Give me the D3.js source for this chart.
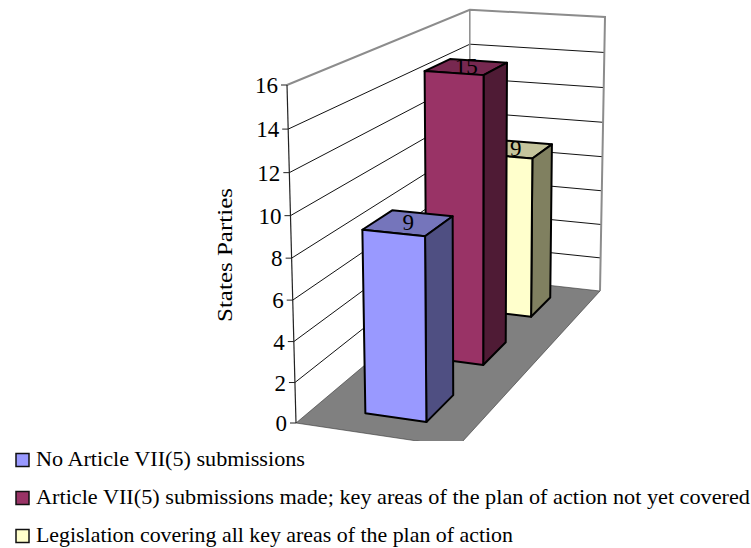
<!DOCTYPE html>
<html>
<head>
<meta charset="utf-8">
<script src="https://d3js.org/d3.v7.min.js"></script>
<style>
  html, body { margin: 0; padding: 0; background: #fff; }
  text { font-family: "Liberation Serif", serif; fill: #000; }
</style>
</head>
<body>
<svg id="chart" width="751" height="548"></svg>
<script>
const seriesNames = [
  "No Article VII(5) submissions",
  "Article VII(5) submissions made; key areas of the plan of action not yet covered",
  "Legislation covering all key areas of the plan of action"
];
const seriesValues = [9, 15, 9];
const yTicks = [0, 2, 4, 6, 8, 10, 12, 14, 16];
const frontColors = ["#9999ff", "#993366", "#ffffcc"];
const sideColors = ["#4f4f82", "#4f1b35", "#808060"];
const topColors = ["#7575bb", "#772850", "#c4c49c"];

const width = 751, height = 548;
const svg = d3.select("#chart");

// box corners on screen: front-left, front-right, back-right, back-left, then two top ones
const A = [296, 423], F = [457.5, 447], R = [600, 291], B = [470, 276.5];
const T = [287, 85], RT = [605, 16];

// square to quad homography for the floor
const dx1 = F[0] - R[0], dx2 = B[0] - R[0], sx = A[0] - F[0] + R[0] - B[0];
const dy1 = F[1] - R[1], dy2 = B[1] - R[1], sy = A[1] - F[1] + R[1] - B[1];
const den = dx1 * dy2 - dx2 * dy1;
const g = (sx * dy2 - dx2 * sy) / den;
const h = (dx1 * sy - sx * dy1) / den;
const a = F[0] - A[0] + g * F[0], b = B[0] - A[0] + h * B[0];
const d = F[1] - A[1] + g * F[1], e = B[1] - A[1] + h * B[1];
// vertical direction, from the lean of the left and right edges
const W = 1 + g + h;
const wv = ((RT[0] - R[0]) * W + A[0] - T[0]) / (T[0] - RT[0]);
const cx = T[0] * (1 + wv) - A[0];
const cy = T[1] * (1 + wv) - A[1];

const yScale = d3.scaleLinear().domain([0, 16]).range([0, 1]);
const xScale = d3.scaleBand().domain(["bars"]).range([0.32, 0.706]);
const zScale = d3.scaleBand().domain(seriesNames).range([0.0085, 0.994]).paddingInner(0.55).paddingOuter(0.25);

const project = (x, z, value) => {
  const v = yScale(value);
  const w = g * x + h * z + 1 + wv * v;
  return [(a * x + b * z + A[0] + cx * v) / w, (d * x + e * z + A[1] + cy * v) / w];
};
const line = d3.line();

svg.append("clipPath").attr("id", "plot-clip")
  .append("rect").attr("width", width).attr("height", 441);
const plot = svg.append("g").attr("clip-path", "url(#plot-clip)");

// floor
plot.append("path")
  .attr("d", line([project(0, 0, 0), project(1, 0, 0), project(1, 1, 0), project(0, 1, 0)]) + "Z")
  .attr("fill", "#808080")
  .attr("stroke", "#333")
  .attr("stroke-width", 0.6);

// gridlines over the left and back walls
plot.selectAll("path.grid")
  .data(yTicks.filter((t) => t > 0 && t < 16))
  .enter()
  .append("path")
  .attr("class", "grid")
  .attr("d", (t) => line([project(0, 0, t), project(0, 1, t), project(1, 1, t)]))
  .attr("fill", "none")
  .attr("stroke", "#111")
  .attr("stroke-width", 1);

// wall outline
plot.append("path")
  .attr("d", line([project(0, 0, 16), project(0, 1, 16), project(1, 1, 16), project(1, 1, 0)]))
  .attr("fill", "none")
  .attr("stroke", "#8c8c8c")
  .attr("stroke-width", 2);
plot.append("path")
  .attr("d", line([project(0, 1, 16), project(0, 1, 0)]))
  .attr("fill", "none")
  .attr("stroke", "#8c8c8c")
  .attr("stroke-width", 1.5);

// bars, back to front
const x0 = xScale("bars"), x1 = x0 + xScale.bandwidth();
const order = d3.range(seriesNames.length).reverse();
order.forEach((i) => {
  const z0 = zScale(seriesNames[i]), z1 = z0 + zScale.bandwidth();
  const val = seriesValues[i];
  const bar = plot.append("g").attr("class", "bar")
    .attr("stroke", "#000").attr("stroke-width", 2).attr("stroke-linejoin", "round");
  bar.append("path")
    .attr("d", line([project(x0, z0, val), project(x1, z0, val), project(x1, z1, val), project(x0, z1, val)]) + "Z")
    .attr("fill", topColors[i]);
  bar.append("path")
    .attr("d", line([project(x1, z0, 0), project(x1, z1, 0), project(x1, z1, val), project(x1, z0, val)]) + "Z")
    .attr("fill", sideColors[i]);
  bar.append("path")
    .attr("d", line([project(x0, z0, 0), project(x1, z0, 0), project(x1, z0, val), project(x0, z0, val)]) + "Z")
    .attr("fill", frontColors[i]);
  const c = project((x0 + x1) / 2, (z0 + z1) / 2, val);
  plot.append("text")
    .attr("x", c[0])
    .attr("y", c[1] + 7)
    .attr("text-anchor", "middle")
    .style("font-size", "23px")
    .text(val);
});

// value axis
svg.append("path")
  .attr("d", line([project(0, 0, 0), project(0, 0, 16)]))
  .attr("fill", "none").attr("stroke", "#222").attr("stroke-width", 1.2);
const tick = svg.selectAll("g.tick").data(yTicks).enter().append("g").attr("class", "tick");
tick.append("line")
  .attr("x1", (t) => project(0, 0, t)[0] - 6)
  .attr("x2", (t) => project(0, 0, t)[0])
  .attr("y1", (t) => project(0, 0, t)[1])
  .attr("y2", (t) => project(0, 0, t)[1])
  .attr("stroke", "#222");
tick.append("text")
  .attr("x", (t) => project(0, 0, t)[0] - 9)
  .attr("y", (t) => project(0, 0, t)[1] + 8)
  .attr("text-anchor", "end")
  .style("font-size", "23px")
  .text((t) => t);

svg.append("text")
  .attr("transform", "translate(232,255) rotate(-90)")
  .attr("text-anchor", "middle")
  .attr("textLength", 134)
  .attr("lengthAdjust", "spacingAndGlyphs")
  .style("font-size", "22px")
  .text("States Parties");

// legend
const legendY = d3.scalePoint().domain(seriesNames).range([460, 536]);
const legendWidths = [269, 714, 477];
const legend = svg.selectAll("g.legend").data(seriesNames).enter().append("g").attr("class", "legend");
legend.append("rect")
  .attr("x", 16)
  .attr("y", (s) => legendY(s) - 6.5)
  .attr("width", 13)
  .attr("height", 13)
  .attr("fill", (s, i) => frontColors[i])
  .attr("stroke", "#111")
  .attr("stroke-width", 1.5);
legend.append("text")
  .attr("x", 36)
  .attr("y", (s) => legendY(s) + 6)
  .attr("textLength", (s, i) => legendWidths[i])
  .attr("lengthAdjust", "spacingAndGlyphs")
  .style("font-size", "21px")
  .text((s) => s);
</script>
</body>
</html>
